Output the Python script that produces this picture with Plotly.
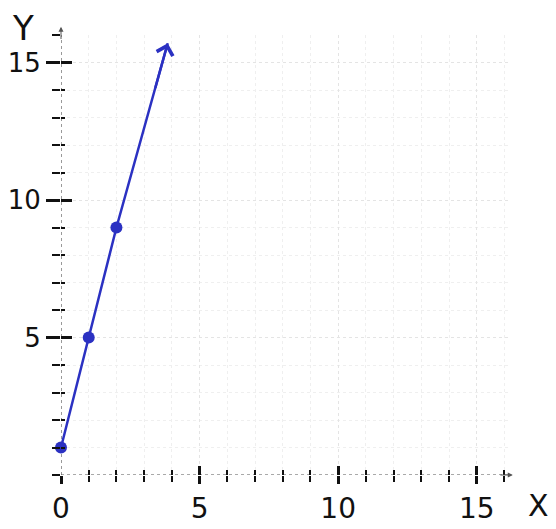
import plotly.graph_objects as go

# data
x_pts = [0, 1, 2, 3.85]
y_pts = [1, 5, 9, 15.7]
marker_sizes = [12, 12, 12, 0]
x_tick_vals = [0, 5, 10, 15]
x_tick_text = ["0", "5", "10", "15"]
y_tick_vals = [5, 10, 15]
y_tick_text = ["5", "10", "15"]

BLUE = "#2b31c2"
FONT = "DejaVu Sans"
XR = [0, 16.2]
YR = [0, 16]

fig = go.Figure()
fig.add_trace(go.Scatter(
    x=x_pts, y=y_pts, mode="lines+markers",
    line=dict(color=BLUE, width=2.5),
    marker=dict(color=BLUE, size=marker_sizes, opacity=1, line=dict(width=0)),
    cliponaxis=False, showlegend=False, hoverinfo="skip"))
# invisible trace for overlay axes
fig.add_trace(go.Scatter(x=[None], y=[None], xaxis="x2", yaxis="y2", showlegend=False))

# arrow head at end of line (tail placed on the line itself)
t = 0.75
tail_x = x_pts[-2] + t * (x_pts[-1] - x_pts[-2])
tail_y = y_pts[-2] + t * (y_pts[-1] - y_pts[-2])
fig.add_annotation(x=x_pts[-1], y=y_pts[-1], ax=tail_x, ay=tail_y,
                   xref="x", yref="y", axref="x", ayref="y", text="", showarrow=True,
                   arrowhead=4, arrowsize=1.3, arrowwidth=2.5, arrowcolor=BLUE)
# axis arrows
fig.add_annotation(x=16.3, y=0, ax=15.8, ay=0, xref="x", yref="y", axref="x", ayref="y",
                   text="", showarrow=True, arrowhead=2, arrowsize=1, arrowwidth=1, arrowcolor="#555")
fig.add_annotation(x=0, y=16.3, ax=0, ay=15.8, xref="x", yref="y", axref="x", ayref="y",
                   text="", showarrow=True, arrowhead=2, arrowsize=1, arrowwidth=1, arrowcolor="#555")
# axis titles
fig.add_annotation(x=-0.085, y=1.016, xref="paper", yref="paper", text="Y", showarrow=False,
                   xanchor="center", yanchor="middle", font=dict(family=FONT, size=34, color="#111"))
fig.add_annotation(x=1.064, y=-0.07, xref="paper", yref="paper", text="X", showarrow=False,
                   xanchor="center", yanchor="middle", font=dict(family=FONT, size=30, color="#111"))

axis_common = dict(zeroline=False, showline=False, fixedrange=True, automargin=False)
fig.update_layout(
    width=548, height=521,
    margin=dict(l=53, r=46, t=27, b=54),
    paper_bgcolor="white", plot_bgcolor="white",
    xaxis=dict(range=XR, tickvals=x_tick_vals, ticktext=x_tick_text,
               ticks="outside", ticklen=8, tickwidth=2.5, tickcolor="#111",
               tickfont=dict(family=FONT, size=28, color="#111"),
               showgrid=True, gridcolor="#e4e4e4", griddash="dot", gridwidth=1,
               minor=dict(dtick=1, tick0=0, ticks="outside", ticklen=6, tickwidth=2.2,
                          tickcolor="#111", showgrid=True, gridcolor="#efefef", griddash="dot"),
               **axis_common),
    yaxis=dict(range=YR, tickvals=y_tick_vals, ticktext=y_tick_text,
               ticks="outside", ticklen=14, tickwidth=2.5, tickcolor="#111", ticklabelstandoff=0,
               tickfont=dict(family=FONT, size=26, color="#111"),
               showgrid=True, gridcolor="#e4e4e4", griddash="dot", gridwidth=1,
               minor=dict(dtick=1, tick0=0, ticks="outside", ticklen=8, tickwidth=2.2,
                          tickcolor="#111", showgrid=True, gridcolor="#efefef", griddash="dot"),
               **axis_common),
    xaxis2=dict(range=XR, overlaying="x", anchor="y", side="bottom", showticklabels=False,
                showgrid=False, tickvals=x_tick_vals, ticks="inside", ticklen=9, tickwidth=2.5,
                tickcolor="#111",
                minor=dict(dtick=1, tick0=0, ticks="inside", ticklen=5, tickwidth=2.2, tickcolor="#111"),
                **axis_common),
    yaxis2=dict(range=YR, overlaying="y", anchor="x", side="left", showticklabels=False,
                showgrid=False, tickvals=y_tick_vals, ticks="inside", ticklen=11, tickwidth=2.5,
                tickcolor="#111",
                minor=dict(dtick=1, tick0=0, ticks="inside", ticklen=4, tickwidth=2.2, tickcolor="#111"),
                **axis_common),
)
# dotted axis lines
fig.add_shape(type="line", x0=0, x1=16.2, y0=0, y1=0, xref="x", yref="y",
              line=dict(color="#555", width=1.2, dash="dot"), layer="below")
fig.add_shape(type="line", x0=0, x1=0, y0=0, y1=16.2, xref="x", yref="y",
              line=dict(color="#555", width=1.2, dash="dot"), layer="below")

fig.write_html("out.html")
